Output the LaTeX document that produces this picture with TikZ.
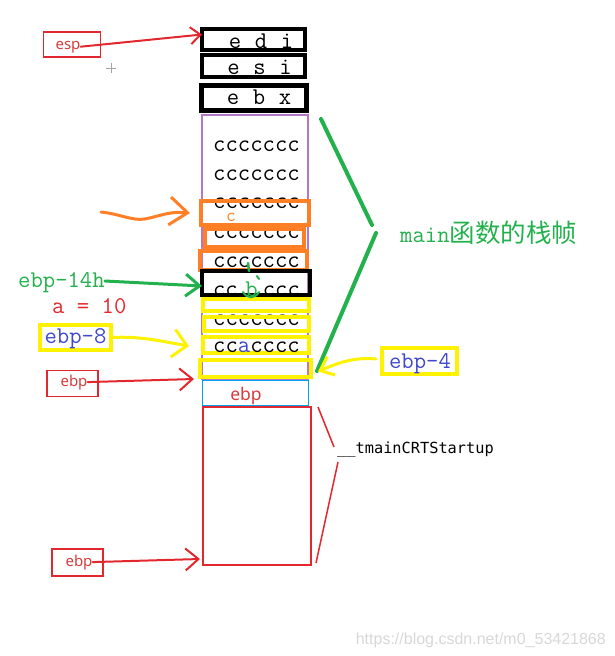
\documentclass[tikz,border=0pt]{standalone}
\usepackage{fontspec}
\newfontfamily\cnf{Noto Sans CJK SC}
\newfontfamily\labf{Noto Sans}
\newfontfamily\cmono{DejaVu Sans Mono}
\newfontfamily\wmf{Liberation Sans}
\usetikzlibrary{arrows.meta,calc}
\definecolor{cred}{RGB}{226,40,46}
\definecolor{ltred}{RGB}{215,60,60}
\definecolor{corange}{RGB}{255,127,39}
\definecolor{cyellow}{RGB}{255,242,0}
\definecolor{cgreen}{RGB}{34,177,76}
\definecolor{cblue}{RGB}{63,72,204}
\definecolor{cpurple}{RGB}{180,120,200}
\definecolor{ccyan}{RGB}{0,162,232}
\definecolor{wmgray}{RGB}{215,215,215}
\newcommand{\spc}[3]{#1\kern13.6pt#2\kern13.6pt#3}
\begin{document}
\begin{tikzpicture}[x=1pt,y=-1pt,
  cell/.style={inner sep=0pt, outer sep=0pt},
  blackbox/.style={cell, draw=black, line width=4pt},
  orangebox/.style={cell, draw=corange, line width=4pt},
  yellowbox/.style={cell, draw=cyellow, line width=4pt},
  mono/.style={font=\fontsize{24}{24}\ttfamily, inner sep=0pt, anchor=base},
  redlab/.style={cell, draw=cred, line width=1.5pt},
  labtxt/.style={font=\fontsize{15}{15}\labf, text=ltred, inner sep=0pt, anchor=base},
  redarrow/.style={draw=cred, line width=2pt, line cap=round, -{Straight Barb[length=13pt,width=22pt,line width=2pt]}},
]
\useasboundingbox (0,0) rectangle (614,656);

% purple frame of the stack
\node[cell, draw=cpurple, line width=1.5pt, minimum width=106pt, minimum height=264pt] (frame) at (255,247) {};

% rows of ccccccc
\node[mono] (r1) at (256.5,151) {ccccccc};
\node[mono] (r2) at (256.5,180) {ccccccc};
\node[mono] (r3) at (256.5,208) {ccccccc};
\node[mono] (r4) at (256.5,238) {ccccccc};
\node[mono] (r5) at (256.5,267) {ccccccc};
\node[mono] (r7) at (256.5,325) {ccccccc};

% register boxes
\node[blackbox, minimum width=103pt, minimum height=21pt] (edi) at (253.5,39.5) {};
\node[blackbox, minimum width=103pt, minimum height=22pt] (esi) at (253.5,66) {};
\node[blackbox, line width=5pt, minimum width=105pt, minimum height=25pt] (ebx) at (253.5,97.5) {};
\node[mono] (tedi) at (261,48) {\spc edi};
\node[mono] (tesi) at (259.5,74) {\spc esi};
\node[mono] (tebx) at (259,104) {\spc ebx};

% local variable boxes
\node[orangebox, minimum width=108pt, minimum height=24pt] (o1) at (255,213) {};
\node[orangebox, minimum width=99pt, minimum height=18pt] (o2) at (254.5,238) {};
\node[orangebox, minimum width=107pt, minimum height=19pt] (o3) at (253.5,260.5) {};
\node[blackbox, minimum width=108pt, minimum height=24pt] (bb) at (256,283) {};
\node[yellowbox, minimum width=106pt, minimum height=12pt] (y1) at (256,305) {};
\node[yellowbox, minimum width=105pt, minimum height=14pt] (y2) at (256.5,324) {};
\node[yellowbox, minimum width=106pt, minimum height=16pt] (y3) at (256,345) {};
\node[yellowbox, minimum width=111pt, minimum height=17pt] (y4) at (255.5,368.5) {};

% rows holding the variables b and a, and the variable c
\node[mono] (r6) at (256.5,296) {cc\kern7.5pt{\color{cgreen}b}\kern5.1pt ccc};
\node[mono] (r8) at (256.5,352) {cc{\color{cblue}a}cccc};
\node[mono, font=\fontsize{19}{19}\ttfamily, text=corange] (vc) at (231,221) {c};
\draw[cgreen, line width=2.5pt, line cap=round] (248,263) -- (249,271);
\draw[cgreen, line width=2pt, line cap=round] (257,276) -- (259,279);
\draw[cgreen, line width=2pt, line cap=round] (243,292) .. controls (247,299) and (255,299) .. (259,292);

% caller frame
\node[cell, draw=ccyan, line width=1.5pt, minimum width=106pt, minimum height=25pt] (ebpbox) at (255.5,393) {};
\node[labtxt, font=\fontsize{17.5}{17.5}\labf] (tebp) at (246,400) {ebp};
\node[cell, draw=cred, line width=1.5pt, minimum width=108pt, minimum height=158pt] (caller) at (257,486) {};

% esp label
\node[redlab, minimum width=57pt, minimum height=25pt] (espbox) at (72,44.5) {};
\node[labtxt] (esp) at (68,49) {esp};
\draw[redarrow, -{Straight Barb[length=10pt,width=17pt,line width=2pt]}] (esp.east) -- ([yshift=5pt]edi.west);

% ebp labels
\node[redlab, minimum width=51pt, minimum height=26pt] (ebpl1) at (72.5,383.5) {};
\node[labtxt] (ebp1) at (74,386) {ebp};
\draw[redarrow] (ebp1.east) -- ([xshift=-6pt,yshift=-2pt]y4.south west);
\node[redlab, minimum width=51pt, minimum height=27pt] (ebpl2) at (77.5,562.5) {};
\node[labtxt] (ebp2) at (79,566) {ebp};
\draw[redarrow] (ebp2.east) -- ([xshift=-3pt,yshift=6pt]caller.south west);

% __tmainCRTStartup
\coordinate (c1) at (318,407);
\coordinate (c2) at (334,447);
\coordinate (c3) at (338,462);
\coordinate (c4) at (316,563);
\draw[cred, line width=1.5pt] (c1) -- (c2) (c3) -- (c4);
\node[font=\fontsize{15.3}{15.3}\cmono, inner sep=0pt, anchor=base west] (tmain) at (337,453) {\_\_tmainCRTStartup};

% main frame bracket
\coordinate (g1) at (321,119);
\coordinate (g2) at (372,225);
\coordinate (g3) at (376,233);
\coordinate (g4) at (317,371);
\draw[cgreen, line width=4pt, line cap=round] (g1) -- (g2) (g3) -- (g4);
\node[inner sep=0pt, anchor=base west, text=cgreen] (mainf) at (400,242) {\fontsize{24}{24}\ttfamily main\cnf\fontsize{25.5}{25.5}\selectfont 函数的栈帧};

% ebp-14h
\node[mono, anchor=base west, text=cgreen] (e14) at (18,287) {ebp-14h};
\draw[cgreen, line width=3pt, line cap=round, -{Straight Barb[length=14pt,width=22pt,line width=3pt]}] ([yshift=6pt]e14.base east) -- ([yshift=-3pt]bb.west);

% a = 10
\node[mono, anchor=base west, text=cred] (a10) at (52,313) {a = 10};

% ebp-8
\node[cell, draw=cyellow, line width=4pt, minimum width=71pt, minimum height=25pt] (e8box) at (75.5,337.5) {};
\node[mono, text=cblue] (e8) at (75.5,343) {ebp-8};
\draw[cyellow, line width=3pt, line cap=round, -{Straight Barb[length=14pt,width=28pt,line width=3pt]}] (e8box.east) .. controls (140,336) and (160,341) .. ([xshift=-14pt,yshift=-1pt]y3.west);

% ebp-4
\node[cell, draw=cyellow, line width=4pt, minimum width=75pt, minimum height=26pt] (e4box) at (419.5,361) {};
\node[mono, text=cblue] (e4) at (420,368) {ebp-4};
\draw[cyellow, line width=3pt, line cap=round, -{Straight Barb[length=12pt,width=20pt,line width=3pt]}] ([xshift=-6pt,yshift=2pt]e4box.west) .. controls (355,357) and (340,362) .. ([xshift=7pt,yshift=-3pt]y4.east);

% orange arrow to c
\coordinate (oa) at (101,212);
\draw[corange, line width=3pt, line cap=round, -{Straight Barb[length=18pt,width=28pt,line width=3pt]}] (oa) .. controls (120,214) and (132,221) .. (145,219) .. controls (160,216) and (170,211) .. ([xshift=-11pt]o1.west);

% cursor cross
\coordinate (cur) at (111,68);
\draw[gray!70, line width=1pt] ([xshift=-5pt]cur) -- ([xshift=5pt]cur) ([yshift=-5pt]cur) -- ([yshift=5pt]cur);

% watermark
\node[font=\fontsize{16}{16}\wmf, text=wmgray, inner sep=0pt, anchor=base east] (wm) at (606,644) {https://blog.csdn.net/m0\_53421868};
\end{tikzpicture}
\end{document}
